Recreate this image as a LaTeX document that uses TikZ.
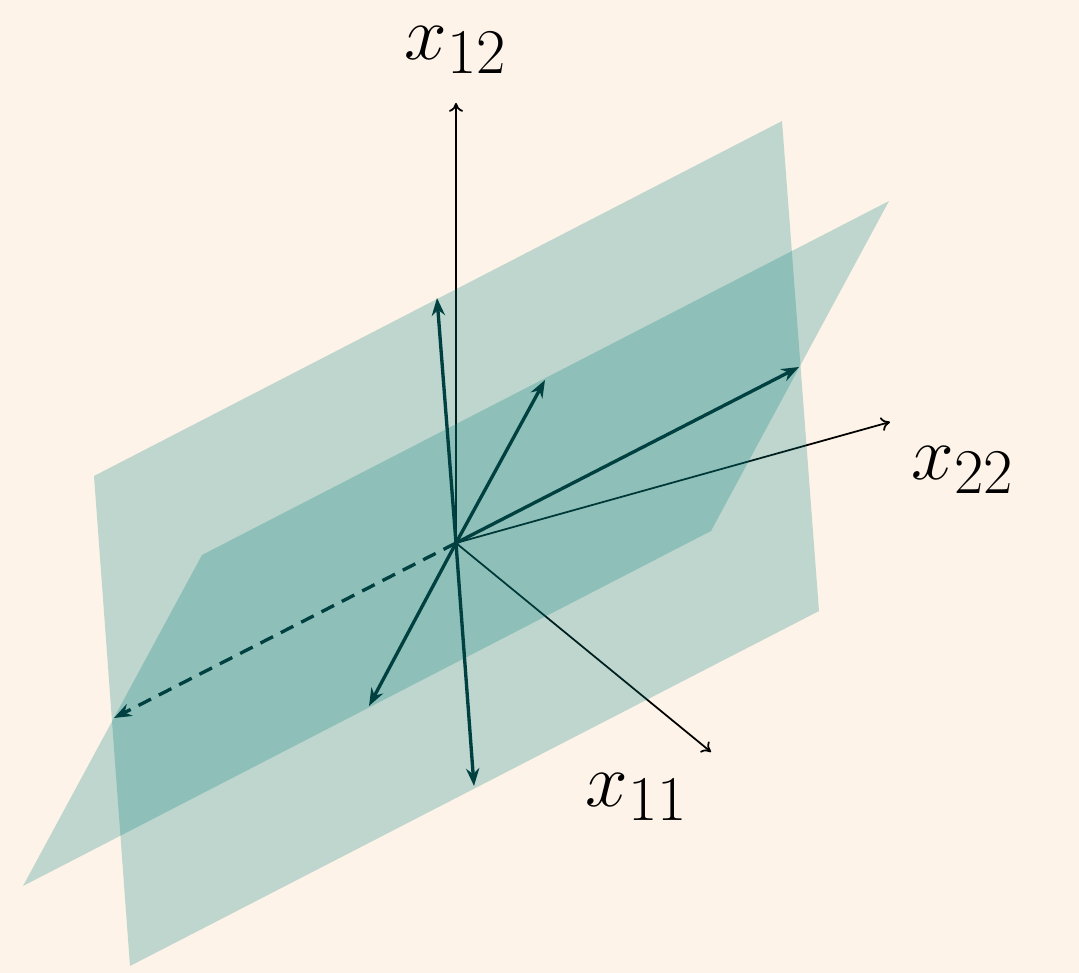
\documentclass[tikz,border=0pt]{standalone}
\usetikzlibrary{arrows.meta}
\definecolor{bgc}{RGB}{254,243,232}
\definecolor{planec}{RGB}{0,128,128}
\definecolor{vecc}{RGB}{0,64,64}
\begin{document}
\begin{tikzpicture}[x=0.02cm,y=-0.02cm,
  axis/.style={line width=1.0pt,black,-{To[length=5pt,width=8pt]}},
  plane/.style={fill=planec,fill opacity=0.25,draw=none},
  vec/.style={line width=1.9pt,vecc,-{Stealth[length=10pt,width=7.5pt]}},
  lab/.style={font=\Huge,scale=1.75}]
\fill[bgc] (0,0) rectangle (1079,973);
\useasboundingbox (0,0) rectangle (1079,973);
\coordinate (O) at (456,543);
\coordinate (A12) at (456,103);
\coordinate (A22) at (890,422);
\coordinate (A11) at (711,752);
\draw[axis] (O) -- (A12);
\draw[axis] (O) -- (A22);
\draw[axis] (O) -- (A11);
\node[lab] (L12) at (456,50) {$x_{12}$};
\node[lab] (L22) at (963,470) {$x_{22}$};
\node[lab] (L11) at (637,797) {$x_{11}$};
\fill[plane] (94,476) -- (782,121) -- (819,611) -- (130,966) -- cycle;
\fill[plane] (202,555) -- (889,201) -- (711,531) -- (23,886) -- cycle;
\coordinate (U1) at (437,298);
\coordinate (D1) at (474,786);
\coordinate (U2) at (545,380);
\coordinate (D2) at (369,706);
\coordinate (U3) at (799,367);
\coordinate (D3) at (114,718);
\draw[vec] (O) -- (U1);
\draw[vec] (O) -- (D1);
\draw[vec] (O) -- (U2);
\draw[vec] (O) -- (D2);
\draw[vec] (O) -- (U3);
\draw[vec,dash pattern=on 8pt off 5pt] (O) -- (D3);
\end{tikzpicture}
\end{document}
